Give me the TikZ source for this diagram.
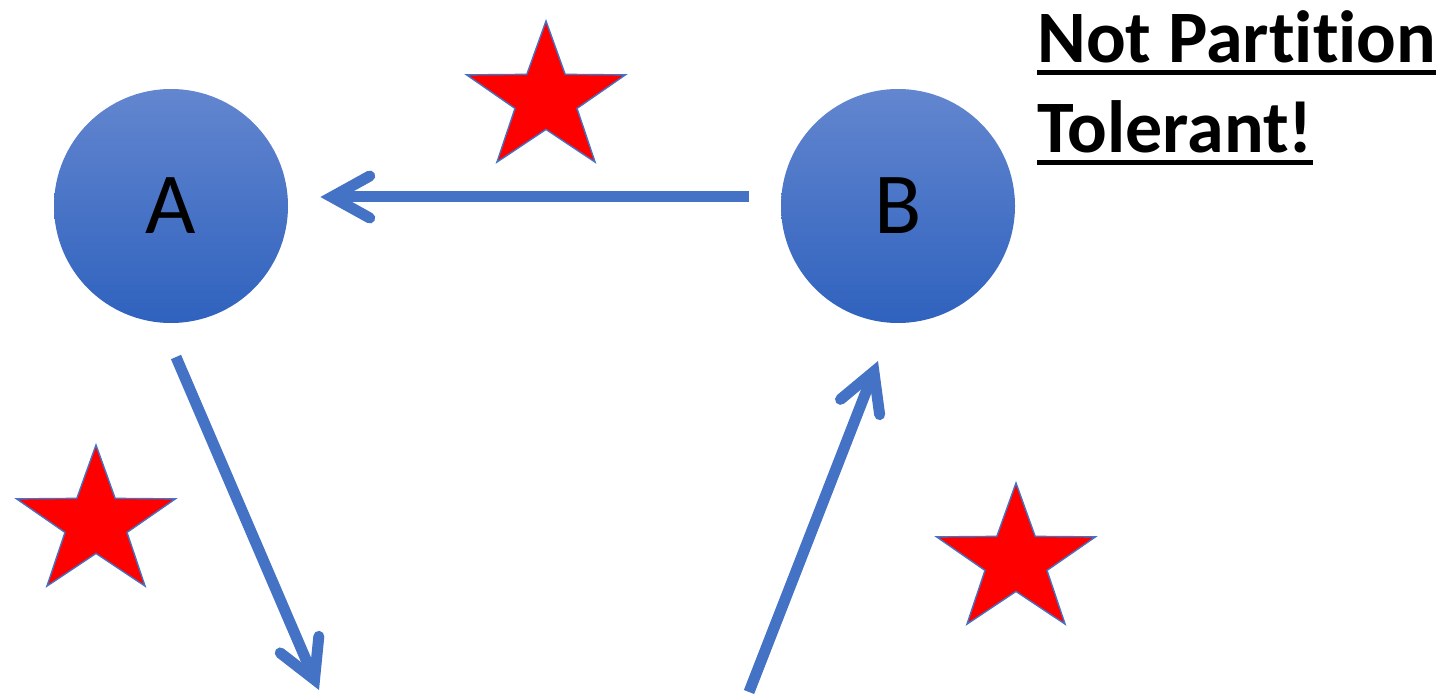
\documentclass[tikz,border=0pt]{standalone}
\usepackage{fontspec}
\setmainfont{Carlito}[Ligatures={NoCommon,NoRequired,NoContextual},Contextuals=NoAlternate]
\usetikzlibrary{arrows.meta,shapes.geometric}

\definecolor{msblue}{RGB}{68,114,196}
\definecolor{nodetop}{RGB}{99,134,207}
\definecolor{nodebot}{RGB}{47,98,190}
\newcommand\ulline[1]{\leavevmode\vtop{\hbox{#1}\kern3.5pt\hrule height 2.5pt}}

\begin{document}
\begin{tikzpicture}[
  x=0.5pt,y=-0.5pt,
  >={Straight Barb[length=19pt,width=21pt,line cap=round,line join=miter]},
  proc/.style={circle,inner sep=0pt,minimum size=117pt,top color=nodetop,bottom color=nodebot,
    font=\fontsize{43.5pt}{50pt}\selectfont},
  flow/.style={->,line width=5.5pt,msblue},
  fault/.style={star,star points=5,star point ratio=2.56,minimum size=78pt,inner sep=0pt,
    xscale=1.07,transform shape,fill=red,draw=msblue,line width=0.7pt},
  note/.style={font=\bfseries\fontsize{37pt}{45pt}\selectfont,align=left,inner sep=0pt},
]
\useasboundingbox (0,0) rectangle (1445,695);

% --- the two servers ---
\node[proc] (A) at (171,206) {A};
\node[proc] (B) at (898,206) {B};

% --- partition markers ---
\node[fault] (f1) at (546,99) {};
\node[fault] (f2) at (96,523) {};
\node[fault] (f3) at (1016,561) {};

% --- loose ends (towards the node off the picture) ---
\coordinate (aout) at (176,357);
\coordinate (cin)  at (319,690);
\coordinate (cout) at (749,692);
\coordinate (bin)  at (878,361);

% --- messages ---
\draw[flow,shorten <=16pt,shorten >=16pt] ([yshift=4.5pt]B.west) -- ([yshift=4.5pt]A.east);
\draw[flow] (aout) -- (cin);
\draw[flow] (cout) -- (bin);

% --- verdict ---
\node[note,anchor=north west] (verdict) at (1037,10)
  {\ulline{Not Part\kern0pt it\kern0pt ion}\\\ulline{Tolerant!}};

\end{tikzpicture}
\end{document}
